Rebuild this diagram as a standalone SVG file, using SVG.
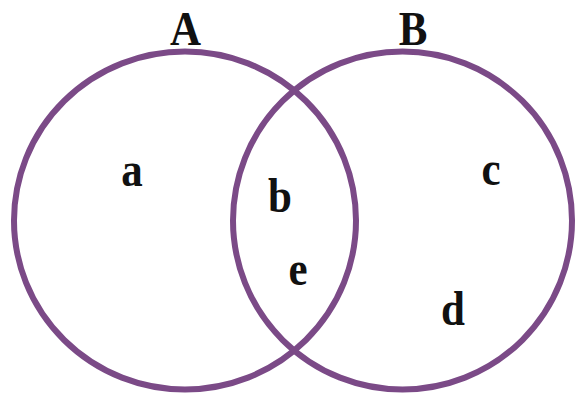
<svg xmlns="http://www.w3.org/2000/svg" width="576" height="395" viewBox="0 0 576 395">
<style>
.set{fill:none;stroke:#7b4a87;stroke-width:6}
.lbl{font-family:"Liberation Serif","Times New Roman",serif;font-weight:bold;font-size:43px;fill:#111;text-anchor:middle}
</style>
<rect width="576" height="395" fill="#fff"/>
<g id="setA">
<ellipse class="set" cx="185" cy="220.5" rx="171" ry="169"/>
<text class="lbl" transform="translate(185.5,45) scale(1,1.15)">A</text>
</g>
<g id="setB">
<ellipse class="set" cx="402.5" cy="220.5" rx="169.5" ry="169"/>
<text class="lbl" transform="translate(413,45) scale(1,1.15)">B</text>
</g>
<g id="elements">
<text class="lbl" transform="translate(132,186) scale(1,1.15)">a</text>
<text class="lbl" transform="translate(280,212) scale(1,1.15)">b</text>
<text class="lbl" transform="translate(491,185) scale(1,1.15)">c</text>
<text class="lbl" transform="translate(453,325) scale(1,1.15)">d</text>
<text class="lbl" transform="translate(298,285) scale(1,1.15)">e</text>
</g>
</svg>
